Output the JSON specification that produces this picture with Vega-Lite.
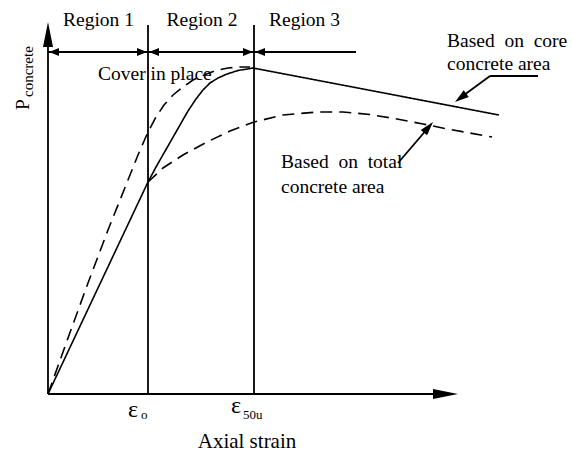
{
  "$schema": "https://vega.github.io/schema/vega-lite/v6.json",
  "width": 572,
  "height": 460,
  "autosize": "none",
  "padding": 0,
  "background": "white",
  "config": {"view": {"stroke": null}, "font": "Liberation Serif, DejaVu Serif, serif"},
  "datasets": {
    "curves": [
      {"series": "core", "seq": 0, "x": 0, "y": 0},
      {"series": "core", "seq": 1, "x": 1.0, "y": 2.12},
      {"series": "core", "seq": 2, "x": 1.08, "y": 2.27},
      {"series": "core", "seq": 3, "x": 1.16, "y": 2.41},
      {"series": "core", "seq": 4, "x": 1.24, "y": 2.55},
      {"series": "core", "seq": 5, "x": 1.32, "y": 2.69},
      {"series": "core", "seq": 6, "x": 1.4, "y": 2.83},
      {"series": "core", "seq": 7, "x": 1.48, "y": 2.95},
      {"series": "core", "seq": 8, "x": 1.55, "y": 3.04},
      {"series": "core", "seq": 9, "x": 1.62, "y": 3.11},
      {"series": "core", "seq": 10, "x": 1.7, "y": 3.16},
      {"series": "core", "seq": 11, "x": 1.79, "y": 3.2},
      {"series": "core", "seq": 12, "x": 1.9, "y": 3.235},
      {"series": "core", "seq": 13, "x": 2.05, "y": 3.26},
      {"series": "core", "seq": 14, "x": 4.51, "y": 2.79},
      {"series": "cover", "seq": 0, "x": 0, "y": 0},
      {"series": "cover", "seq": 1, "x": 0.2, "y": 0.56},
      {"series": "cover", "seq": 2, "x": 0.4, "y": 1.11},
      {"series": "cover", "seq": 3, "x": 0.6, "y": 1.64},
      {"series": "cover", "seq": 4, "x": 0.8, "y": 2.14},
      {"series": "cover", "seq": 5, "x": 0.9, "y": 2.39},
      {"series": "cover", "seq": 6, "x": 1.0, "y": 2.62},
      {"series": "cover", "seq": 7, "x": 1.08, "y": 2.77},
      {"series": "cover", "seq": 8, "x": 1.16, "y": 2.89},
      {"series": "cover", "seq": 9, "x": 1.25, "y": 2.99},
      {"series": "cover", "seq": 10, "x": 1.35, "y": 3.07},
      {"series": "cover", "seq": 11, "x": 1.45, "y": 3.14},
      {"series": "cover", "seq": 12, "x": 1.56, "y": 3.19},
      {"series": "cover", "seq": 13, "x": 1.68, "y": 3.235},
      {"series": "cover", "seq": 14, "x": 1.8, "y": 3.26},
      {"series": "cover", "seq": 15, "x": 1.92, "y": 3.27},
      {"series": "cover", "seq": 16, "x": 2.02, "y": 3.27},
      {"series": "total", "seq": 0, "x": 1.0, "y": 2.12},
      {"series": "total", "seq": 1, "x": 1.15, "y": 2.26},
      {"series": "total", "seq": 2, "x": 1.35, "y": 2.39},
      {"series": "total", "seq": 3, "x": 1.59, "y": 2.52},
      {"series": "total", "seq": 4, "x": 1.82, "y": 2.63},
      {"series": "total", "seq": 5, "x": 2.06, "y": 2.72},
      {"series": "total", "seq": 6, "x": 2.35, "y": 2.79},
      {"series": "total", "seq": 7, "x": 2.69, "y": 2.82},
      {"series": "total", "seq": 8, "x": 2.95, "y": 2.82},
      {"series": "total", "seq": 9, "x": 3.22, "y": 2.795},
      {"series": "total", "seq": 10, "x": 3.49, "y": 2.75},
      {"series": "total", "seq": 11, "x": 3.75, "y": 2.7},
      {"series": "total", "seq": 12, "x": 4.02, "y": 2.645},
      {"series": "total", "seq": 13, "x": 4.44, "y": 2.57}
    ],
    "segments": [
      {"role": "y axis", "x": 0, "y": 0, "x2": 0, "y2": 3.5},
      {"role": "x axis", "x": 0, "y": 0, "x2": 3.9, "y2": 0},
      {"role": "eps_o line", "x": 1.0, "y": 0, "x2": 1.0, "y2": 3.69},
      {"role": "eps_50u line", "x": 2.06, "y": 0, "x2": 2.06, "y2": 3.69},
      {"role": "region 1", "x": 0, "y": 3.42, "x2": 1.0, "y2": 3.42},
      {"role": "region 2", "x": 1.0, "y": 3.42, "x2": 2.06, "y2": 3.42},
      {"role": "region 3", "x": 2.06, "y": 3.42, "x2": 3.08, "y2": 3.42},
      {"role": "core pointer", "x": 4.42, "y": 3.18, "x2": 4.9, "y2": 3.18},
      {"role": "core pointer", "x": 4.42, "y": 3.18, "x2": 4.12, "y2": 2.96},
      {"role": "total pointer", "x": 3.5, "y": 2.31, "x2": 3.8, "y2": 2.66}
    ],
    "heads": [
      {"role": "y axis", "x": 0, "y": 3.72},
      {"role": "x axis", "x": 4.1, "y": 0},
      {"role": "region end", "x": 0.99, "y": 3.42},
      {"role": "region end", "x": 2.05, "y": 3.42},
      {"role": "region start", "x": 0.01, "y": 3.42},
      {"role": "region start", "x": 1.01, "y": 3.42},
      {"role": "region start", "x": 2.07, "y": 3.42},
      {"role": "core pointer", "x": 4.07, "y": 2.92},
      {"role": "total pointer", "x": 3.85, "y": 2.72}
    ],
    "notes": [
      {"label": "Cover in place", "x": 0.5, "y": 3.14},
      {"label": "Based\u00a0 on\u00a0 core", "x": 3.99, "y": 3.47},
      {"label": "concrete area", "x": 3.99, "y": 3.24},
      {"label": "Based\u00a0 on\u00a0 total", "x": 2.33, "y": 2.26},
      {"label": "concrete area", "x": 2.33, "y": 2.01}
    ],
    "regions": [
      {"label": "Region 1", "x": 0.505, "y": 3.68},
      {"label": "Region 2", "x": 1.54, "y": 3.68},
      {"label": "Region 3", "x": 2.565, "y": 3.68}
    ],
    "xtitle": [{"label": "Axial strain", "x": 1.99, "y": -0.54}],
    "eps": [
      {"label": "ε", "x": 0.8, "y": -0.23},
      {"label": "ε", "x": 1.83, "y": -0.19}
    ],
    "epsSub": [
      {"label": "o", "x": 0.93, "y": -0.25},
      {"label": "50u", "x": 1.95, "y": -0.25}
    ],
    "ytitle": [{"label": "P", "x": -0.19, "y": 2.84}],
    "ytitleSub": [{"label": "concrete", "x": -0.15, "y": 2.97}]
  },
  "encoding": {
    "x": {"field": "x", "type": "quantitative", "scale": {"domain": [-0.48, 5.24], "nice": false, "zero": false}, "axis": null},
    "y": {"field": "y", "type": "quantitative", "scale": {"domain": [-0.66, 3.94], "nice": false, "zero": false}, "axis": null}
  },
  "layer": [
    {
      "data": {"name": "segments"},
      "mark": {"type": "rule", "color": "black", "strokeWidth": 1.8},
      "encoding": {"x2": {"field": "x2"}, "y2": {"field": "y2"}}
    },
    {
      "data": {"name": "curves"},
      "mark": {"type": "line", "color": "black", "strokeWidth": 1.6},
      "encoding": {
        "detail": {"field": "series", "type": "nominal"},
        "order": {"field": "seq", "type": "quantitative"},
        "strokeDash": {"field": "series", "type": "nominal", "scale": {"domain": ["core", "cover", "total"], "range": [[1, 0], [12, 7], [12, 7]]}, "legend": null}
      }
    },
    {
      "data": {"name": "heads"},
      "transform": [{"filter": "datum.role === 'y axis'"}],
      "mark": {"type": "point", "shape": "M0,0L-0.4,2L0.4,2Z", "size": 625, "filled": true, "color": "black", "opacity": 1, "strokeWidth": 0}
    },
    {
      "data": {"name": "heads"},
      "transform": [{"filter": "datum.role === 'x axis'"}],
      "mark": {"type": "point", "shape": "M0,0L-2,-0.4L-2,0.4Z", "size": 625, "filled": true, "color": "black", "opacity": 1, "strokeWidth": 0}
    },
    {
      "data": {"name": "heads"},
      "transform": [{"filter": "datum.role === 'region end'"}],
      "mark": {"type": "point", "shape": "M0,0L-2,-0.8L-2,0.8Z", "size": 100, "filled": true, "color": "black", "opacity": 1, "strokeWidth": 0}
    },
    {
      "data": {"name": "heads"},
      "transform": [{"filter": "datum.role === 'region start'"}],
      "mark": {"type": "point", "shape": "M0,0L2,-0.8L2,0.8Z", "size": 100, "filled": true, "color": "black", "opacity": 1, "strokeWidth": 0}
    },
    {
      "data": {"name": "heads"},
      "transform": [{"filter": "datum.role === 'core pointer'"}],
      "mark": {"type": "point", "shape": "M0,0L-2,-0.6L-2,0.6Z", "size": 196, "angle": 143.4, "filled": true, "color": "black", "opacity": 1, "strokeWidth": 0}
    },
    {
      "data": {"name": "heads"},
      "transform": [{"filter": "datum.role === 'total pointer'"}],
      "mark": {"type": "point", "shape": "M0,0L-2,-0.6L-2,0.6Z", "size": 196, "angle": 310.5, "filled": true, "color": "black", "opacity": 1, "strokeWidth": 0}
    },
    {
      "data": {"name": "notes"},
      "mark": {"type": "text", "font": "Liberation Serif, DejaVu Serif, serif", "color": "black", "fontSize": 19.5, "align": "left", "baseline": "alphabetic"},
      "encoding": {"text": {"field": "label"}}
    },
    {
      "data": {"name": "regions"},
      "mark": {"type": "text", "font": "Liberation Serif, DejaVu Serif, serif", "color": "black", "fontSize": 19.5, "align": "center", "baseline": "alphabetic"},
      "encoding": {"text": {"field": "label"}}
    },
    {
      "data": {"name": "xtitle"},
      "mark": {"type": "text", "font": "Liberation Serif, DejaVu Serif, serif", "color": "black", "fontSize": 21, "align": "center", "baseline": "alphabetic"},
      "encoding": {"text": {"field": "label"}}
    },
    {
      "data": {"name": "eps"},
      "mark": {"type": "text", "font": "Liberation Serif, DejaVu Serif, serif", "color": "black", "fontSize": 24, "align": "left", "baseline": "alphabetic"},
      "encoding": {"text": {"field": "label"}}
    },
    {
      "data": {"name": "epsSub"},
      "mark": {"type": "text", "font": "Liberation Serif, DejaVu Serif, serif", "color": "black", "fontSize": 13, "align": "left", "baseline": "alphabetic"},
      "encoding": {"text": {"field": "label"}}
    },
    {
      "data": {"name": "ytitle"},
      "mark": {"type": "text", "font": "Liberation Serif, DejaVu Serif, serif", "color": "black", "fontSize": 19.5, "align": "left", "baseline": "alphabetic", "angle": 270},
      "encoding": {"text": {"field": "label"}}
    },
    {
      "data": {"name": "ytitleSub"},
      "mark": {"type": "text", "font": "Liberation Serif, DejaVu Serif, serif", "color": "black", "fontSize": 15, "align": "left", "baseline": "alphabetic", "angle": 270},
      "encoding": {"text": {"field": "label"}}
    }
  ]
}
